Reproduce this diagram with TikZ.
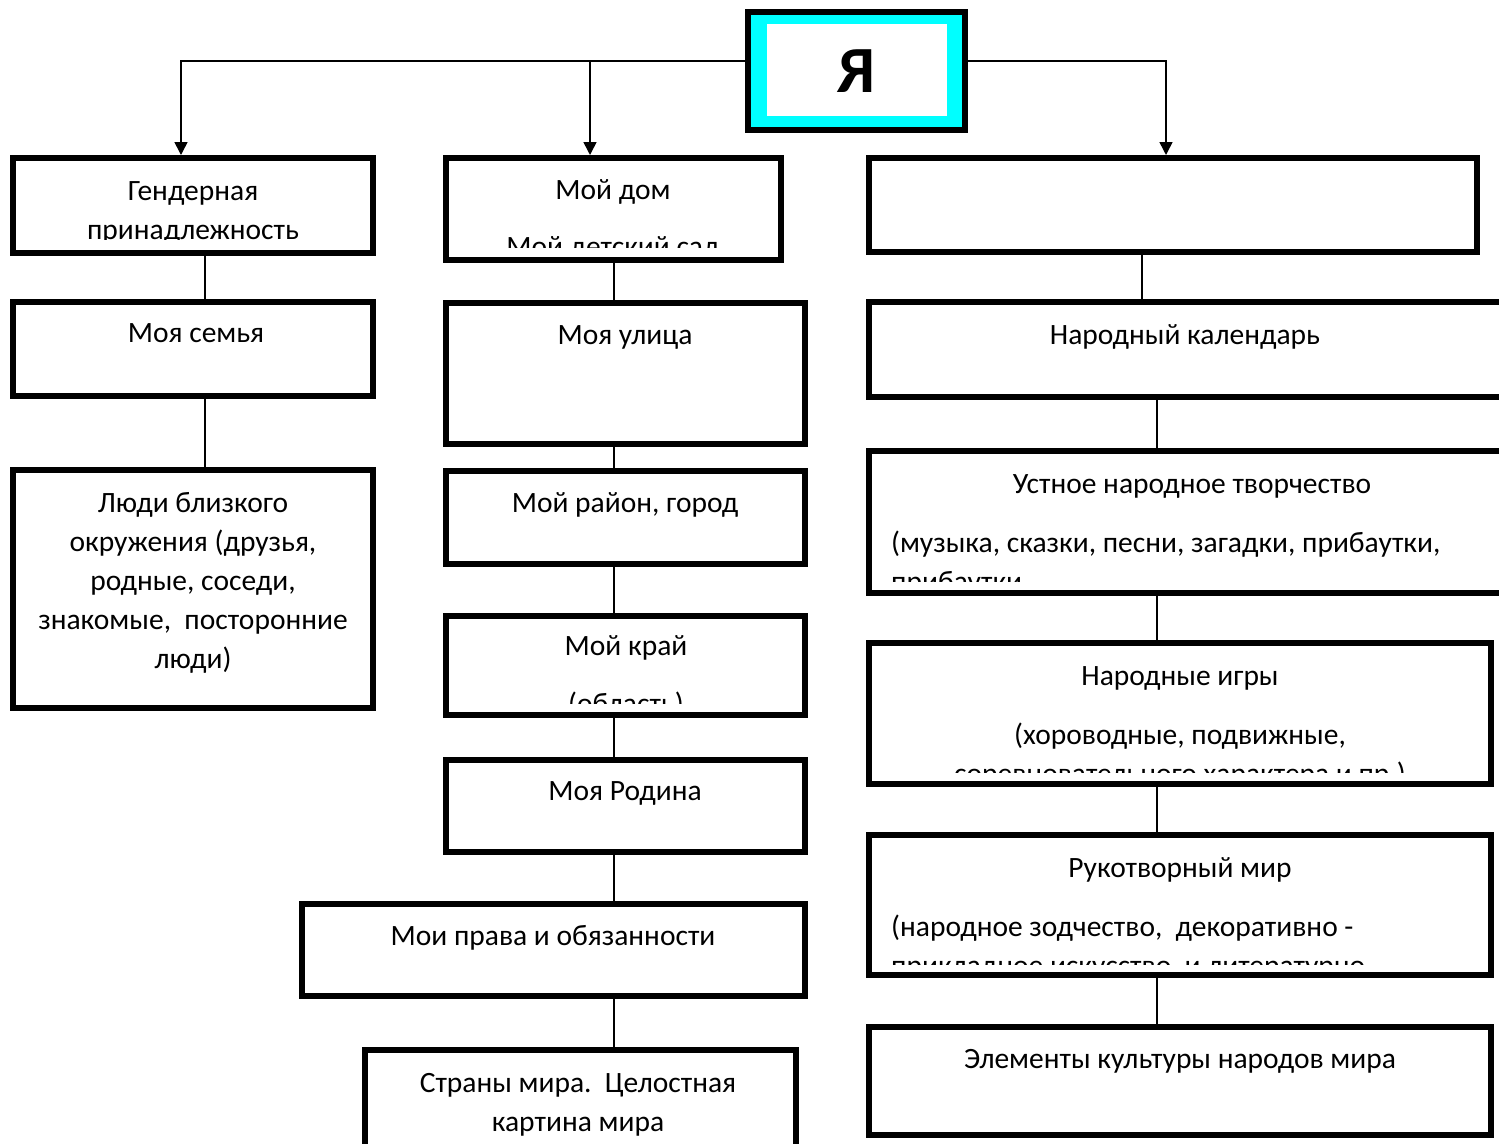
\documentclass[tikz,border=0pt]{standalone}
\usepackage{fontspec}
\setmainfont{Carlito}
\usetikzlibrary{arrows.meta}
\definecolor{aqua}{RGB}{0,255,255}
\newcommand\mybox[5]{%
  \pgfmathsetmacro\bw{#4-#2}\pgfmathsetmacro\bh{#5-#3}%
  \pgfmathsetmacro\bx{(#2+#4)/2}\pgfmathsetmacro\by{(#3+#5)/2}%
  \node[box, minimum width=\bw pt, minimum height=\bh pt] (#1) at (\bx,\by) {};}
\tikzset{
  box/.style={draw, line width=6pt, rectangle, inner sep=0pt},
  txt/.style={anchor=base, inner sep=0pt, font=\fontsize{29.5}{39}\selectfont},
  ltxt/.style={txt, anchor=base west},
  conn/.style={line width=1.6pt},
  arr/.style={line width=1.6pt, -{Triangle[length=13pt,width=13pt]}},
  mebox/.style={draw, line width=6pt, fill=aqua, rectangle, inner sep=0pt,
    minimum width=217pt, minimum height=118pt,
    font=\bfseries\fontsize{66}{70}\selectfont,
    path picture={\fill[white] ([shift={(19pt,14pt)}]path picture bounding box.south west) rectangle ([shift={(-18pt,-12pt)}]path picture bounding box.north east);}},
}
\begin{document}
\begin{tikzpicture}[x=1pt,y=-1pt]
\useasboundingbox (0,0) rectangle (1499,1143);
\clip (0,0) rectangle (1499,1143);
\fill[white] (0,0) rectangle (1499,1143);

% top node
\node[mebox] (me) at (856.5,71) {\raisebox{-2pt}{Я}};

% left column
\mybox{gend}{13}{158}{373}{253}
\mybox{fam}{13}{302}{373}{396}
\mybox{ppl}{13}{470}{373}{708}
% middle column
\mybox{home}{446}{158}{781}{260}
\mybox{street}{446}{303}{805}{444}
\mybox{distr}{446}{471}{805}{564}
\mybox{kray}{446}{616}{805}{715}
\mybox{rod}{446}{760}{805}{852}
\mybox{rights}{302}{904}{805}{996}
\mybox{world}{365}{1050}{796}{1190}
% right column
\mybox{rtop}{869}{158}{1477}{252}
\mybox{cal}{869}{302}{1515}{397}
\mybox{oral}{869}{451}{1515}{593}
\mybox{games}{869}{643}{1491}{784}
\mybox{craft}{869}{835}{1491}{975}
\mybox{elem}{869}{1027}{1491}{1135}

% texts
\node[txt] (t1) at (193,200) {Гендерная};
\begin{scope}\clip (13,158) rectangle (373,239);
\node[txt] (t2) at (193,239) {принадлежность};\end{scope}
\node[txt] (t3) at (196,342) {Моя семья};
\node[txt] (t4) at (193,512) {Люди близкого};
\node[txt] (t5) at (193,551) {окружения (друзья,};
\node[txt] (t6) at (193,590) {родные, соседи,};
\node[txt] (t7) at (193,629) {знакомые,\ \ посторонние};
\node[txt] (t8) at (193,668) {люди)};

\node[txt] (m1) at (613,199) {Мой дом};
\begin{scope}\clip (446,158) rectangle (781,247);
\node[txt] (m2) at (613,256) {Мой детский сад};\end{scope}
\node[txt] (m3) at (625,344) {Моя улица};
\node[txt] (m4) at (625,512) {Мой район, город};
\node[txt] (m5) at (626,655) {Мой край};
\begin{scope}\clip (446,616) rectangle (805,703);
\node[txt] (m6) at (626,713) {(область)};\end{scope}
\node[txt] (m7) at (625,800) {Моя Родина};
\node[txt] (m8) at (553,945) {Мои права и обязанности};
\node[txt] (m9) at (578,1092) {Страны мира.\ \ Целостная};
\node[txt] (m10) at (578,1131) {картина мира};

\node[txt] (r1) at (1185,344) {Народный календарь};
\node[txt] (r2) at (1192,493) {Устное народное творчество};
\node[ltxt] (r3) at (891,552) {(музыка, сказки, песни, загадки, прибаутки,};
\begin{scope}\clip (869,451) rectangle (1499,581);
\node[ltxt] (r4) at (891,591) {прибаутки};\end{scope}
\node[txt] (r5) at (1180,685) {Народные игры};
\node[txt] (r6) at (1180,744) {(хороводные, подвижные,};
\begin{scope}\clip (869,643) rectangle (1491,772);
\node[txt] (r7) at (1180,783) {соревновательного характера и пр.)};\end{scope}
\node[txt] (r8) at (1180,877) {Рукотворный мир};
\node[ltxt] (r9) at (891,936) {(народное зодчество,\ \ декоративно -};
\begin{scope}\clip (869,835) rectangle (1491,964);
\node[ltxt] (r10) at (891,975) {прикладное искусство\ \ и литературно-};\end{scope}
\node[txt] (r11) at (1180,1068) {Элементы культуры народов мира};

% connectors from the top node
\coordinate (hl) at ([yshift=10pt]me.west);
\coordinate (hr) at ([yshift=10pt]me.east);
\coordinate (xa) at (181,0);
\coordinate (xb) at (590,0);
\coordinate (xc) at (1166,0);
\draw[arr] (hl) -| (xa |- gend.north);
\draw[arr] (xb |- hl) -- (xb |- home.north);
\draw[arr] (hr) -| (xc |- rtop.north);

% vertical links
\coordinate (xl) at (205,0);
\coordinate (xm) at (614,0);
\coordinate (xr1) at (1142,0);
\coordinate (xr) at (1157,0);
\draw[conn] (xl |- gend.south) -- (xl |- fam.north);
\draw[conn] (xl |- fam.south) -- (xl |- ppl.north);
\draw[conn] (xm |- home.south) -- (xm |- street.north);
\draw[conn] (xm |- street.south) -- (xm |- distr.north);
\draw[conn] (xm |- distr.south) -- (xm |- kray.north);
\draw[conn] (xm |- kray.south) -- (xm |- rod.north);
\draw[conn] (xm |- rod.south) -- (xm |- rights.north);
\draw[conn] (xm |- rights.south) -- (xm |- world.north);
\draw[conn] (xr1 |- rtop.south) -- (xr1 |- cal.north);
\draw[conn] (xr |- cal.south) -- (xr |- oral.north);
\draw[conn] (xr |- oral.south) -- (xr |- games.north);
\draw[conn] (xr |- games.south) -- (xr |- craft.north);
\draw[conn] (xr |- craft.south) -- (xr |- elem.north);
\end{tikzpicture}
\end{document}
